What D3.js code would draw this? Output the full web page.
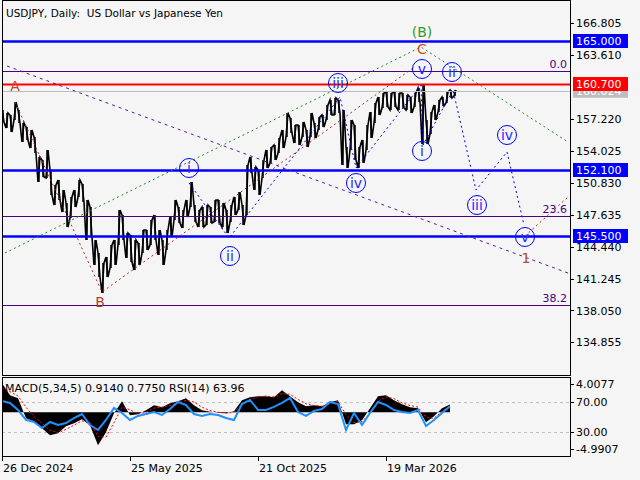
<!DOCTYPE html>
<html>
<head>
<meta charset="utf-8">
<title>USDJPY, Daily</title>
<script src="https://cdn.jsdelivr.net/npm/d3@7"></script>
<style>
  body { margin: 0; background: #f5f5f5; }
  svg { display: block; font-family: "DejaVu Sans", sans-serif; }
</style>
</head>
<body>
<script>
// one sample every 4 daily bars, first bar = 26 Dec 2024
const highs = [158.1,157.8,157.6,158.9,158.1,156.8,156.4,156.1,155.4,153.4,
  153.1,154.1,152.1,150.6,151.1,150.1,148.8,149.4,150.1,151.1,
  150.7,149.1,148.4,145.1,143.8,142.8,143.4,144.6,145.1,148.1,
  147.6,145.8,145.6,145.1,144.8,146.1,146.1,147.1,147.6,146.1,
  145.1,146.1,147.4,149.1,148.4,148.1,149.1,150.9,148.6,148.1,
  148.4,148.6,148.4,149.1,149.1,148.8,148.1,148.6,149.4,149.9,
  148.6,152.6,153.4,152.4,152.1,153.1,154.1,154.4,154.6,155.3,
  156.1,157.8,157.3,156.6,156.6,156.9,156.1,157.8,156.8,157.4,
  157.6,158.6,159.1,159.3,159.1,158.1,154.4,157.1,156.6,154.4,
  155.1,156.6,157.9,158.8,159.4,159.8,159.9,159.8,159.9,159.8,
  159.8,159.6,159.4,159.8,160.3,160.6,157.1,157.9,158.6,159.1,
  159.4,159.9,160.1,160.1];
const lows = [156.9,156.3,155.9,157.1,156.8,154.9,155.1,154.3,153.8,150.9,
  151.4,151.3,149.6,148.6,149.1,147.9,146.4,147.3,148.4,149.4,
  148.9,145.1,145.4,142.6,141.4,139.8,141.4,142.3,142.6,144.6,
  145.1,143.3,142.9,142.1,142.6,143.8,144.1,144.6,145.1,143.6,
  142.6,144.1,145.4,147.1,146.8,146.3,147.4,148.4,146.9,146.4,
  146.4,146.6,146.8,146.9,146.8,146.4,145.8,146.9,147.6,148.1,
  146.6,147.6,151.8,150.1,149.6,151.3,152.3,152.8,153.1,153.8,
  154.3,155.4,155.8,154.8,154.6,155.4,154.4,155.4,155.3,156.1,
  156.4,157.1,157.6,157.6,157.8,152.6,152.3,154.1,153.1,152.3,
  152.8,154.1,155.3,156.8,157.6,158.3,158.4,158.1,158.4,158.1,
  158.3,158.1,157.8,158.4,158.9,154.7,154.7,155.7,157.1,157.9,
  158.5,158.8,159.3,159.5];

// indicator samples, one every 8 bars
const macd = [3.4,1.99,1.64,-0.70,-1.05,-1.87,-2.69,-2.45,-1.64,-1.29,-0.82,-1.52,-3.86,-2.34,-0.12,1.29,
  -0.35,-0.23,0.23,0.82,0.58,1.05,1.29,1.64,0.82,0.23,0.05,-0.05,-0.12,0.12,1.40,1.75,1.87,1.87,1.75,
  2.57,1.87,1.17,0.70,0.82,0.70,1.17,1.40,-1.40,-1.40,-0.93,0.47,1.87,1.99,1.40,0.93,0.58,0.47,-1.17,
  -0.47,0.47,0.914];
const signal = [2.8,2.4,1.9,0.6,-0.5,-1.3,-2.1,-2.4,-2.0,-1.5,-1.0,-1.2,-2.8,-2.9,-1.2,0.6,0.3,-0.2,0.0,
  0.5,0.6,0.8,1.1,1.4,1.2,0.6,0.2,0.0,-0.1,0.0,0.9,1.5,1.8,1.9,1.8,2.2,2.1,1.5,1.0,0.8,0.7,1.0,1.3,
  -0.3,-1.2,-1.1,-0.1,1.3,1.8,1.6,1.1,0.8,0.6,-0.6,-0.7,0.1,0.775];
const rsi = [70.9,68.3,59.0,45.8,43.2,35.2,43.2,39.2,41.8,48.4,53.7,39.2,32.6,45.8,61.7,55.0,45.8,51.1,
  53.7,56.4,52.4,60.3,69.6,65.6,53.7,51.1,53.7,52.4,48.4,45.8,66.9,72.2,59.0,59.0,63.0,68.3,74.9,56.4,
  51.1,57.7,60.3,69.6,66.9,32.6,55.0,39.2,55.0,69.6,65.6,59.0,56.4,55.0,59.0,37.9,45.8,55.0,63.96];

const priceTicks = [166.805, 163.610, 157.220, 154.025, 150.830, 147.635, 144.440, 141.245, 138.050, 134.855];
const dateLabels = ['26 Dec 2024', '25 May 2025', '21 Oct 2025', '19 Mar 2026'];
const dateBars = [0, 128, 256, 384];

const blueLevels = [165.0, 152.1, 145.5];
const redLevel = 160.7;
const grayLevel = 160.024;
const fibLevels = [162.0, 147.5, 138.6];
const fibNames = ['0.0', '23.6', '38.2'];

// wave marks as [bar, price]
const purpleTrend = [[5, 162.5], [566, 141.8]];
const greenChannel = [[3, 143.8], [419, 164.4], [566, 154.9]];
const abcPath = [[13, 158.9], [100, 139.9], [411, 162.3]];
const wave2Path = [[523, 145.5], [566, 149.4]];
const impulsePath = [[187, 150.8], [227, 145.3], [338, 159.4], [354, 152.3], [419, 160.6],
  [421, 154.6], [451, 160.1], [474, 150.1], [505, 153.9], [522, 146.6]];
const circleLabels = [['i', 187, 152.3], ['ii', 228, 143.5], ['iii', 336, 160.8], ['iv', 354, 150.8],
  ['v', 420, 162.2], ['i', 420, 154.0], ['ii', 450, 161.9], ['iii', 475, 148.6], ['iv', 505, 155.6],
  ['v', 523, 145.4]];
const letterLabels = [['A', 13, 160.5, '#d0402c'], ['B', 98, 138.9, '#a8402c'], ['C', 420, 164.2, '#d0502c'],
  ['(B)', 420, 165.9, '#2e9a2e'], ['1', 524, 143.3, '#a8502c']];

const width = 640, height = 480;
const left = 2, right = 570, mainBottom = 375, subTop = 377, subBottom = 456;

const svg = d3.select('body').append('svg')
  .attr('width', width)
  .attr('height', height);

svg.append('rect').attr('width', width).attr('height', height).attr('fill', '#f5f5f5');

const x = d3.scaleLinear().domain([0, 568]).range([left, right]);
const y = d3.scaleLinear().domain([131.6, 169.1]).range([mainBottom, 0]);
const yMacd = d3.scaleLinear().domain([-4.9907, 4.0077]).range([455, 378]);
const yRsi = d3.scaleLinear().domain([0, 100]).range([454.7, 378.9]);

svg.append('clipPath').attr('id', 'mainClip')
  .append('rect').attr('x', left).attr('y', 0).attr('width', right - left).attr('height', mainBottom);
svg.append('clipPath').attr('id', 'subClip')
  .append('rect').attr('x', left).attr('y', subTop).attr('width', right - left).attr('height', subBottom - subTop);

const main = svg.append('g').attr('clip-path', 'url(#mainClip)');

// price
const pts = [];
highs.forEach((h, i) => {
  const bx = x(i * 4);
  if (i % 2 == 0) {
    pts.push([bx, y(h)], [bx + 2, y(lows[i])]);
  } else {
    pts.push([bx, y(lows[i])], [bx + 2, y(h)]);
  }
});
main.append('path')
  .attr('d', d3.line()(pts))
  .attr('fill', 'none')
  .attr('stroke', '#000')
  .attr('stroke-width', 1.6);
main.selectAll('line.bar')
  .data(highs)
  .join('line')
  .attr('class', 'bar')
  .attr('x1', (d, i) => x(i * 4) + 1)
  .attr('x2', (d, i) => x(i * 4) + 1)
  .attr('y1', d => y(d))
  .attr('y2', (d, i) => y(lows[i]))
  .attr('stroke', '#000')
  .attr('stroke-width', 1.5);

// horizontal levels
function hline(p, color, w) {
  main.append('line')
    .attr('x1', left).attr('x2', right)
    .attr('y1', Math.round(y(p)) + 0.5).attr('y2', Math.round(y(p)) + 0.5)
    .attr('stroke', color).attr('stroke-width', w);
}
fibLevels.forEach(p => hline(p, '#4b0082', 1));
hline(grayLevel, '#bdbdbd', 1);
hline(redLevel, '#ff0000', 2);
blueLevels.forEach(p => hline(p, '#0000ff', 2.5));

fibNames.forEach((t, i) => {
  main.append('text')
    .attr('x', right - 3).attr('y', y(fibLevels[i]) - 3)
    .attr('text-anchor', 'end')
    .attr('font-size', 11)
    .attr('fill', '#4b0082')
    .text(t);
});

// wave lines
const wline = d3.line().x(d => x(d[0])).y(d => y(d[1]));
function dotted(data, color, dash) {
  main.append('path')
    .attr('d', wline(data))
    .attr('fill', 'none')
    .attr('stroke', color)
    .attr('stroke-width', 1)
    .attr('stroke-dasharray', dash);
}
dotted(purpleTrend, '#5a1a9a', '3,4');
dotted(greenChannel, '#228b22', '2,3');
dotted(abcPath, '#a52a2a', '2,3');
dotted(wave2Path, '#a52a2a', '2,3');
dotted(impulsePath, '#0000ff', '2,3');

// labels
circleLabels.forEach(d => {
  main.append('circle')
    .attr('cx', x(d[1])).attr('cy', y(d[2])).attr('r', 9.5)
    .attr('fill', 'none').attr('stroke', '#0000ff').attr('stroke-width', 1);
  main.append('text')
    .attr('x', x(d[1])).attr('y', y(d[2]) + 5)
    .attr('text-anchor', 'middle')
    .attr('font-size', 14)
    .attr('fill', '#2a2aff')
    .text(d[0]);
});
letterLabels.forEach(d => {
  main.append('text')
    .attr('x', x(d[1])).attr('y', y(d[2]) + 5)
    .attr('text-anchor', 'middle')
    .attr('font-size', 14)
    .attr('fill', d[3])
    .text(d[0]);
});

svg.append('text')
  .attr('x', 6).attr('y', 17)
  .attr('font-size', 10.5)
  .attr('fill', '#000')
  .style('white-space', 'pre')
  .text('USDJPY, Daily:  US Dollar vs Japanese Yen');

// indicator window
const sub = svg.append('g').attr('clip-path', 'url(#subClip)');
sub.selectAll('line.lvl')
  .data([70, 30])
  .join('line')
  .attr('class', 'lvl')
  .attr('x1', left).attr('x2', right)
  .attr('y1', d => Math.round(yRsi(d)) + 0.5).attr('y2', d => Math.round(yRsi(d)) + 0.5)
  .attr('stroke', '#c0c0c0')
  .attr('stroke-dasharray', '3,3');
sub.append('path')
  .attr('d', d3.area().x((d, i) => x(i * 8)).y0(yMacd(0)).y1(d => yMacd(d))(macd))
  .attr('fill', '#000');
sub.append('path')
  .attr('d', d3.line().x((d, i) => x(i * 8)).y(d => yMacd(d))(signal))
  .attr('fill', 'none').attr('stroke', '#ff0000').attr('stroke-width', 1)
  .attr('stroke-dasharray', '2,2');
sub.append('path')
  .attr('d', d3.line().x((d, i) => x(i * 8)).y(d => yRsi(d))(rsi))
  .attr('fill', 'none').attr('stroke', '#1e90ff').attr('stroke-width', 2);
svg.append('text')
  .attr('x', 5).attr('y', 392)
  .attr('font-size', 11)
  .text('MACD(5,34,5) 0.9140 0.7750 RSI(14) 63.96');

// frames
svg.append('rect').attr('x', left + 0.5).attr('y', 0.5).attr('width', right - left).attr('height', mainBottom)
  .attr('fill', 'none').attr('stroke', '#000');
svg.append('rect').attr('x', left + 0.5).attr('y', subTop + 0.5).attr('width', right - left).attr('height', subBottom - subTop)
  .attr('fill', 'none').attr('stroke', '#000');

// price axis
const axisG = svg.append('g').attr('font-size', 11);
priceTicks.forEach(p => {
  axisG.append('line').attr('x1', right).attr('x2', right + 4)
    .attr('y1', Math.round(y(p)) + 0.5).attr('y2', Math.round(y(p)) + 0.5).attr('stroke', '#000');
  axisG.append('text').attr('x', right + 6).attr('y', y(p) + 4).text(d3.format('.3f')(p));
});

function tag(p, color) {
  axisG.append('rect').attr('x', right + 3).attr('y', y(p) - 7).attr('width', 55).attr('height', 14).attr('fill', color);
  axisG.append('text').attr('x', right + 6).attr('y', y(p) + 4).attr('fill', '#fff').text(d3.format('.3f')(p));
}
tag(grayLevel, '#bdbdbd');
tag(redLevel, '#ff0000');
blueLevels.forEach(p => tag(p, '#0000ff'));

// indicator axis
const subTicks = [[yMacd(4.0077) + 6, '4.0077'], [yRsi(70), '70.00'], [yRsi(30), '30.00'], [yMacd(-4.9907) - 6, '-4.9907']];
subTicks.forEach(d => {
  axisG.append('line').attr('x1', right).attr('x2', right + 4)
    .attr('y1', Math.round(d[0]) + 0.5).attr('y2', Math.round(d[0]) + 0.5).attr('stroke', '#000');
  axisG.append('text').attr('x', right + 6).attr('y', d[0] + 4).text(d[1]);
});

// date axis
dateBars.forEach((b, i) => {
  axisG.append('line').attr('x1', Math.round(x(b)) + 0.5).attr('x2', Math.round(x(b)) + 0.5)
    .attr('y1', subBottom).attr('y2', subBottom + 5).attr('stroke', '#000');
  axisG.append('text').attr('x', x(b) + 1).attr('y', 472).text(dateLabels[i]);
});
</script>
</body>
</html>
